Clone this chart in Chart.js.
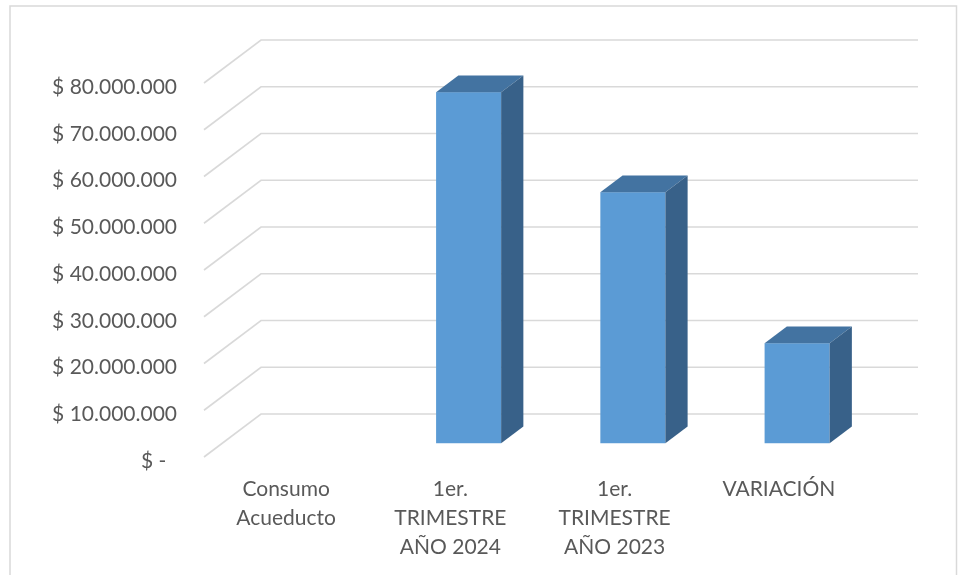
<!DOCTYPE html>
<html>
<head>
<meta charset="utf-8">
<script src="https://cdn.jsdelivr.net/npm/chart.js@4/dist/chart.umd.min.js"></script>
<style>
  html, body { margin: 0; padding: 0; background: #fff; overflow: hidden; }
  canvas { display: block; }
</style>
</head>
<body>
<canvas id="chart" width="958" height="575"></canvas>
<script>
// Categories (multi-line labels) and values in pesos
const categories = [
  ['Consumo', 'Acueducto'],
  ['1er.', 'TRIMESTRE', 'AÑO 2024'],
  ['1er.', 'TRIMESTRE', 'AÑO 2023'],
  ['VARIACIÓN']
];
const consumo = [null, 75100000, 53700000, 21400000];
const yMin = 0;
const yMax = 80000000;
const yStep = 10000000;

// Oblique projection used for the 3D look
const DEPTH_DX = 57;      // full depth, horizontal shift
const DEPTH_DY = 43;      // full depth, vertical shift
const BAR_FRONT = 0.32;   // bar front plane as fraction of depth
const BAR_BACK = 0.71;    // bar back plane as fraction of depth

const FACE_FRONT = '#5B9BD5';
const FACE_TOP = '#4373A1';
const FACE_SIDE = '#386189';
const GRID = '#D9D9D9';
const TEXT = '#595959';

function pesos(v) {
  if (v === 0) return '$ -  ';
  return '$ ' + String(Math.round(v)).replace(/\B(?=(\d{3})+(?!\d))/g, '.');
}

const scene3d = {
  id: 'scene3d',
  beforeDraw(chart) {
    const ctx = chart.ctx;
    ctx.save();
    ctx.fillStyle = '#fff';
    ctx.fillRect(0, 0, chart.width, chart.height);
    ctx.strokeStyle = GRID;
    ctx.lineWidth = 1.5;
    ctx.strokeRect(10, 6, 946.5, 600);
    ctx.restore();
  },
  beforeDatasetsDraw(chart) {
    const { ctx, chartArea: a, scales: { y } } = chart;
    ctx.save();
    ctx.strokeStyle = GRID;
    ctx.lineWidth = 1.6;
    y.ticks.forEach(t => {
      const py = y.getPixelForValue(t.value);
      ctx.beginPath();
      ctx.moveTo(a.left, py);
      ctx.lineTo(a.left + DEPTH_DX, py - DEPTH_DY);
      ctx.lineTo(a.right + DEPTH_DX, py - DEPTH_DY);
      ctx.stroke();
    });
    ctx.restore();
  },
  afterDatasetsDraw(chart) {
    const ctx = chart.ctx;
    const meta = chart.getDatasetMeta(0);
    const fx = BAR_FRONT * DEPTH_DX, fy = BAR_FRONT * DEPTH_DY;
    const kx = (BAR_BACK - BAR_FRONT) * DEPTH_DX, ky = (BAR_BACK - BAR_FRONT) * DEPTH_DY;
    ctx.save();
    meta.data.forEach((bar, i) => {
      if (consumo[i] == null) return;
      const p = bar.getProps(['x', 'y', 'base', 'width'], true);
      if (!isFinite(p.y) || !isFinite(p.base)) return;
      const L = p.x - p.width / 2 + fx;
      const R = p.x + p.width / 2 + fx;
      const T = p.y - fy;
      const B = p.base - fy;
      // front face
      ctx.fillStyle = FACE_FRONT;
      ctx.fillRect(L, T, R - L, B - T);
      // top face
      ctx.fillStyle = FACE_TOP;
      ctx.beginPath();
      ctx.moveTo(L, T);
      ctx.lineTo(R, T);
      ctx.lineTo(R + kx, T - ky);
      ctx.lineTo(L + kx, T - ky);
      ctx.closePath();
      ctx.fill();
      // side face
      ctx.fillStyle = FACE_SIDE;
      ctx.beginPath();
      ctx.moveTo(R, T);
      ctx.lineTo(R, B);
      ctx.lineTo(R + kx, B - ky);
      ctx.lineTo(R + kx, T - ky);
      ctx.closePath();
      ctx.fill();
    });
    ctx.restore();
  }
};

const family = 'Lato, "Open Sans", sans-serif';

new Chart(document.getElementById('chart'), {
  type: 'bar',
  data: {
    labels: categories,
    datasets: [{
      data: consumo,
      backgroundColor: 'rgba(0,0,0,0)',
      borderWidth: 0,
      categoryPercentage: 1,
      barPercentage: 0.396
    }]
  },
  options: {
    responsive: false,
    animation: false,
    devicePixelRatio: 1,
    layout: { padding: { top: 83, right: 97, left: 0, bottom: 0 } },
    plugins: { legend: { display: false }, tooltip: { enabled: false } },
    scales: {
      x: {
        grid: { display: false, drawTicks: false },
        border: { display: false },
        ticks: { color: TEXT, font: { family, size: 21, lineHeight: 1.37 }, padding: 18, maxRotation: 0, autoSkip: false },
        afterFit(s) { s.height = 118; }
      },
      y: {
        min: yMin,
        max: yMax,
        grid: { display: false, drawTicks: false },
        border: { display: false },
        ticks: { stepSize: yStep, color: TEXT, font: { family, size: 21 }, padding: 27, labelOffset: 4, callback: v => pesos(v) },
        afterFit(s) { s.width = 204; }
      }
    }
  },
  plugins: [scene3d]
});
</script>
</body>
</html>
